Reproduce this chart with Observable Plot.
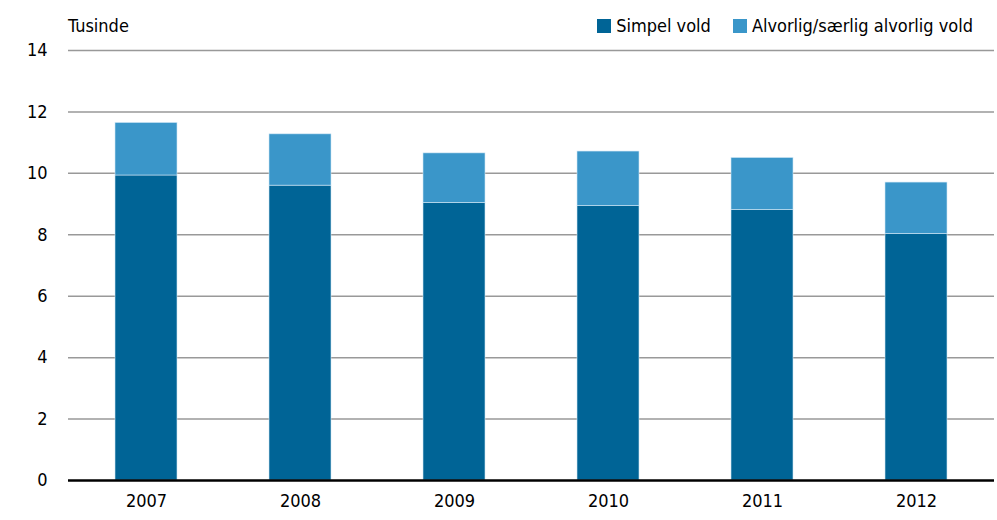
<!DOCTYPE html>
<html>
<head>
<meta charset="utf-8">
<script src="https://cdn.jsdelivr.net/npm/d3@7"></script>
<script src="https://cdn.jsdelivr.net/npm/@observablehq/plot@0.6"></script>
<style>
  html, body { margin: 0; padding: 0; background: #fff; }
  #wrap { position: relative; width: 997px; height: 520px; font-family: "DejaVu Sans Condensed", "DejaVu Sans", sans-serif; font-stretch: condensed; }
  #unit { position: absolute; left: 68px; top: 15px; font-size: 18px; color: #000; }
  #legend { position: absolute; right: 24px; top: 15px; font-size: 18px; display: flex; gap: 22px; }
  #legend span.sw { display: inline-block; width: 14px; height: 14px; margin-right: 5px; vertical-align: -1px; }
</style>
</head>
<body>
<div id="wrap">
  <div id="chart"></div>
  <div id="unit">Tusinde</div>
  <div id="legend"></div>
</div>
<script>
const years = ["2007", "2008", "2009", "2010", "2011", "2012"];
const simpel = [9.93, 9.6, 9.04, 8.94, 8.81, 8.03];
const alvorlig = [1.71, 1.67, 1.61, 1.77, 1.69, 1.67];
const seriesNames = ["Simpel vold", "Alvorlig/særlig alvorlig vold"];
const seriesColors = ["#006496", "#3a96c9"];
const yTicks = [0, 2, 4, 6, 8, 10, 12, 14];

const data = [];
years.forEach((y, i) => {
  data.push({year: y, series: seriesNames[0], value: simpel[i]});
  data.push({year: y, series: seriesNames[1], value: alvorlig[i]});
});

const chart = Plot.plot({
  width: 997,
  height: 520,
  marginTop: 50,
  marginBottom: 40,
  marginLeft: 68,
  marginRight: 3,
  style: {fontFamily: "'DejaVu Sans Condensed', 'DejaVu Sans', sans-serif", fontSize: "18px", color: "#000", background: "#fff"},
  x: {domain: years, paddingInner: 0.6, paddingOuter: 0.3, label: null, tickSize: 0, tickPadding: 14},
  y: {domain: [0, 14], ticks: yTicks, label: null, tickSize: 0, tickPadding: 21},
  color: {domain: seriesNames, range: seriesColors},
  marks: [
    Plot.ruleY(yTicks.filter(d => d > 0), {stroke: "#999", strokeWidth: 1.5}),
    Plot.barY(data, {x: "year", y: "value", fill: "series", order: seriesNames, stroke: "#cfe6f5", strokeWidth: 0.6}),
    Plot.ruleY([0], {stroke: "#000", strokeWidth: 2.5})
  ]
});
chart.style.fontStretch = "condensed";
document.getElementById("chart").appendChild(chart);

const legend = document.getElementById("legend");
seriesNames.forEach((n, i) => {
  const d = document.createElement("div");
  d.innerHTML = `<span class="sw" style="background:${seriesColors[i]}"></span>${n}`;
  legend.appendChild(d);
});
</script>
</body>
</html>
